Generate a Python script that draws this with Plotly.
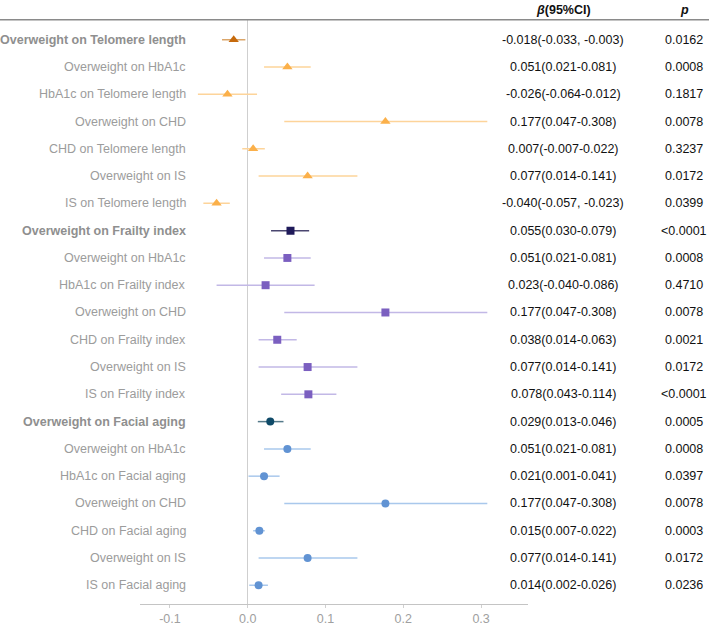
import plotly.graph_objects as go

# ---------------- data ----------------
labels = [
    "Overweight on Telomere length", "Overweight on HbA1c", "HbA1c on Telomere length",
    "Overweight on CHD", "CHD on Telomere length", "Overweight on IS", "IS on Telomere length",
    "Overweight on Frailty index", "Overweight on HbA1c", "HbA1c on Frailty index",
    "Overweight on CHD", "CHD on Frailty index", "Overweight on IS", "IS on Frailty index",
    "Overweight on Facial aging", "Overweight on HbA1c", "HbA1c on Facial aging",
    "Overweight on CHD", "CHD on Facial aging", "Overweight on IS", "IS on Facial aging",
]
beta = [-0.018, 0.051, -0.026, 0.177, 0.007, 0.077, -0.040,
        0.055, 0.051, 0.023, 0.177, 0.038, 0.077, 0.078,
        0.029, 0.051, 0.021, 0.177, 0.015, 0.077, 0.014]
ci_low = [-0.033, 0.021, -0.064, 0.047, -0.007, 0.014, -0.057,
          0.030, 0.021, -0.040, 0.047, 0.014, 0.014, 0.043,
          0.013, 0.021, 0.001, 0.047, 0.007, 0.014, 0.002]
ci_high = [-0.003, 0.081, 0.012, 0.308, 0.022, 0.141, -0.023,
           0.079, 0.081, 0.086, 0.308, 0.063, 0.141, 0.114,
           0.046, 0.081, 0.041, 0.308, 0.022, 0.141, 0.026]
p_text = ["0.0162", "0.0008", "0.1817", "0.0078", "0.3237", "0.0172", "0.0399",
          "<0.0001", "0.0008", "0.4710", "0.0078", "0.0021", "0.0172", "<0.0001",
          "0.0005", "0.0008", "0.0397", "0.0078", "0.0003", "0.0172", "0.0236"]
group_size = 7
x_ticks = [-0.1, 0.0, 0.1, 0.2, 0.3]

# ---------------- styling ----------------
W, H = 709, 626
FONT = "Arial, Liberation Sans, sans-serif"
groups = [
    dict(symbol="triangle-up", size=9,
         head_marker="#c66a0c", head_line="#dba66a",
         marker="#fbb04a", line="#fdd49a"),
    dict(symbol="square", size=8,
         head_marker="#1f1a5a", head_line="#4a4670",
         marker="#7b5fc0", line="#c2b8e6"),
    dict(symbol="circle", size=8,
         head_marker="#0f4a68", head_line="#557a8a",
         marker="#6193d3", line="#a9c8ec"),
]

row_top_px, row_step_px = 40, 27.5
axis_top_px, axis_bottom_px = 20, 609
y_top = 1 - (row_top_px - axis_top_px) / row_step_px
y_bottom = len(labels) + (axis_bottom_px - (row_top_px + (len(labels) - 1) * row_step_px)) / row_step_px

rows = list(range(1, len(labels) + 1))

fig = go.Figure()
for g, st in enumerate(groups):
    idx = list(range(g * group_size, (g + 1) * group_size))
    for part, ids in (("rest", idx[1:]), ("head", idx[:1])):
        mcol = st["head_marker"] if part == "head" else st["marker"]
        lcol = st["head_line"] if part == "head" else st["line"]
        fig.add_trace(go.Scatter(
            x=[beta[i] for i in ids],
            y=[rows[i] for i in ids],
            mode="markers",
            marker=dict(symbol=st["symbol"], size=st["size"], color=mcol,
                        line=dict(width=0)),
            error_x=dict(type="data", symmetric=False,
                         array=[ci_high[i] - beta[i] for i in ids],
                         arrayminus=[beta[i] - ci_low[i] for i in ids],
                         color=lcol, thickness=1.5, width=0),
            showlegend=False, hoverinfo="skip",
        ))


def fmt_ci(b, lo, hi):
    sep = ", " if (lo < 0 and hi < 0) else "-"
    return f"{b:.3f}({lo:.3f}{sep}{hi:.3f})"


annotations = []
for i, lab in enumerate(labels):
    bold = (i % group_size == 0)
    annotations.append(dict(
        x=188 / W, xref="paper", y=rows[i], yref="y",
        text=f"<b>{lab}</b>" if bold else lab,
        xanchor="right", yanchor="middle", showarrow=False,
        font=dict(family=FONT, size=12.5, color="#8f8f8f" if bold else "#9c9c9c"),
    ))
    annotations.append(dict(
        x=563 / W, xref="paper", y=rows[i], yref="y",
        text=fmt_ci(beta[i], ci_low[i], ci_high[i]),
        xanchor="center", yanchor="middle", showarrow=False,
        font=dict(family=FONT, size=12.5, color="#111111"),
    ))
    annotations.append(dict(
        x=684 / W, xref="paper", y=rows[i], yref="y",
        text=p_text[i],
        xanchor="center", yanchor="middle", showarrow=False,
        font=dict(family=FONT, size=12.5, color="#111111"),
    ))

header_y = 1 - 10 / H
annotations.append(dict(x=563 / W, xref="paper", y=header_y, yref="paper",
                        text="<b><i>β</i>(95%CI)</b>", showarrow=False,
                        xanchor="center", yanchor="middle",
                        font=dict(family=FONT, size=12.5, color="#111111")))
annotations.append(dict(x=684 / W, xref="paper", y=header_y, yref="paper",
                        text="<b><i>p</i></b>", showarrow=False,
                        xanchor="center", yanchor="middle",
                        font=dict(family=FONT, size=12.5, color="#111111")))

x_left_px, x_right_px = 140, 528
px_per_unit = 778
x0 = (x_left_px - 247.7) / px_per_unit
x1 = (x_right_px - 247.7) / px_per_unit

fig.update_layout(
    width=W, height=H,
    margin=dict(l=0, r=0, t=0, b=0),
    paper_bgcolor="white", plot_bgcolor="white",
    annotations=annotations,
    shapes=[dict(type="line", xref="paper", yref="paper",
                 x0=0, x1=1, y0=1 - axis_top_px / H, y1=1 - axis_top_px / H,
                 line=dict(color="#8a8a8a", width=1.5))],
    xaxis=dict(
        domain=[x_left_px / W, x_right_px / W],
        range=[x0, x1],
        tickvals=x_ticks, ticktext=[f"{v:.1f}" for v in x_ticks],
        showline=True, linecolor="#c4c4c4", linewidth=1.2,
        ticks="outside", ticklen=3, tickcolor="#d0d0d0",
        tickfont=dict(family=FONT, size=12.5, color="#a0a0a0"),
        showgrid=False,
        zeroline=True, zerolinecolor="#cfcfcf", zerolinewidth=1.5,
    ),
    yaxis=dict(
        domain=[1 - axis_bottom_px / H, 1 - axis_top_px / H],
        range=[y_bottom, y_top],
        showticklabels=False, showgrid=False, zeroline=False, showline=False,
        ticks="",
    ),
)

fig.write_html(
    "out.html",
    config={"displayModeBar": False, "staticPlot": True},
    post_script="document.body.style.margin='0';document.body.style.padding='0';"
                "document.body.style.overflow='hidden';",
)
